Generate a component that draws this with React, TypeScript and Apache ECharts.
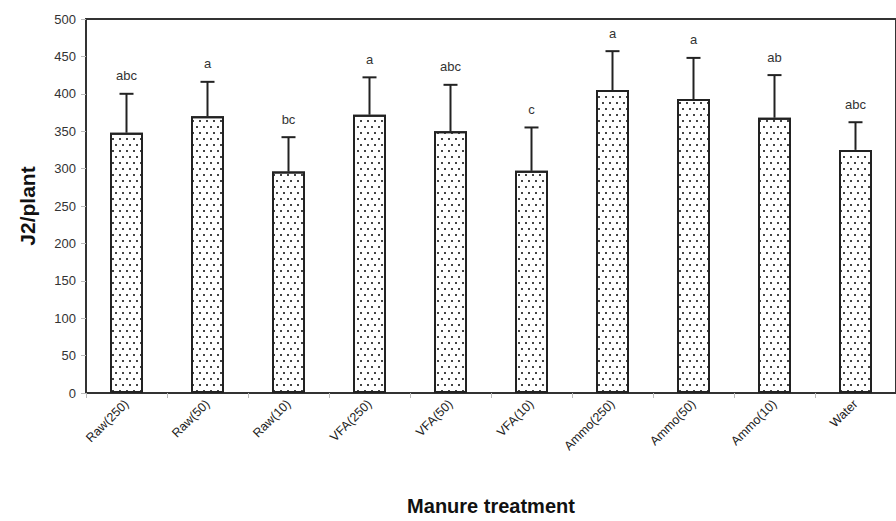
import React, { useEffect, useRef } from "react";
import * as echarts from "echarts";

const categories = ["Raw(250)", "Raw(50)", "Raw(10)", "VFA(250)", "VFA(50)", "VFA(10)", "Ammo(250)", "Ammo(50)", "Ammo(10)", "Water"];
const means = [348, 370, 296, 372, 350, 297, 405, 393, 368, 325];
const errorTops = [400, 416, 342, 422, 412, 355, 457, 448, 425, 362];
const letters = ["abc", "a", "bc", "a", "abc", "c", "a", "a", "ab", "abc"];
const yTicks = { min: 0, max: 500, interval: 50 };

export default function App() {
  const ref = useRef<HTMLDivElement>(null);
  useEffect(() => {
    document.body.style.margin = "0";
    const chart = echarts.init(ref.current!, null, { renderer: "svg" });
    const font = "'Liberation Sans', Arial, Helvetica, sans-serif";
    const errData = categories.map((c, i) => [i, means[i], errorTops[i], letters[i]]);
    chart.setOption({
      animation: false,
      backgroundColor: "#ffffff",
      grid: { left: 86, top: 19, width: 820, height: 377, show: true, borderColor: "#333", borderWidth: 2, containLabel: false },
      xAxis: {
        type: "category",
        data: categories,
        name: "Manure treatment",
        nameLocation: "middle",
        nameGap: 103,
        nameTextStyle: { fontFamily: font, fontWeight: "bold", fontSize: 20, color: "#111" },
        axisLine: { lineStyle: { color: "#333", width: 2 } },
        axisTick: { show: true, length: 5, lineStyle: { color: "#bbb" } },
        axisLabel: { rotate: 45, fontFamily: font, fontSize: 12.5, color: "#222", margin: 9 },
      },
      yAxis: {
        type: "value",
        min: yTicks.min,
        max: yTicks.max,
        interval: yTicks.interval,
        name: "J2/plant",
        nameLocation: "middle",
        nameGap: 48,
        nameTextStyle: { fontFamily: font, fontWeight: "bold", fontSize: 21, color: "#111" },
        axisLine: { show: true, lineStyle: { color: "#333", width: 2 } },
        axisTick: { show: true, length: 5, lineStyle: { color: "#bbb" } },
        axisLabel: { fontFamily: font, fontSize: 13, color: "#333", margin: 10 },
        splitLine: { show: false },
      },
      series: [
        {
          type: "bar",
          data: means,
          barWidth: 33,
          itemStyle: {
            color: "#ffffff",
            borderColor: "#222",
            borderWidth: 2,
            decal: {
              symbol: "rect",
              symbolSize: 1,
              color: "#444",
              dashArrayX: [[1.3, 5], [0, 3, 1.3, 1.7]],
              dashArrayY: [1.3, 3.7],
              rotation: 0,
            },
          },
        },
        {
          type: "custom",
          data: errData,
          z: 10,
          renderItem: (params: any, api: any) => {
            const i = api.value(0);
            const lo = api.coord([i, api.value(1)]);
            const hi = api.coord([i, api.value(2)]);
            const x = lo[0];
            return {
              type: "group",
              children: [
                { type: "line", shape: { x1: x, y1: lo[1], x2: x, y2: hi[1] }, style: { stroke: "#222", lineWidth: 2 } },
                { type: "line", shape: { x1: x - 7, y1: hi[1], x2: x + 7, y2: hi[1] }, style: { stroke: "#222", lineWidth: 2 } },
                {
                  type: "text",
                  x: x,
                  y: hi[1] - 18,
                  style: {
                    text: letters[params.dataIndex],
                    fontFamily: font,
                    fontSize: 13,
                    fill: "#333",
                    align: "center",
                    verticalAlign: "middle",
                  },
                },
              ],
            };
          },
        },
      ],
    });
    return () => chart.dispose();
  }, []);
  return <div ref={ref} style={{ width: 896, height: 521 }} />;
}
